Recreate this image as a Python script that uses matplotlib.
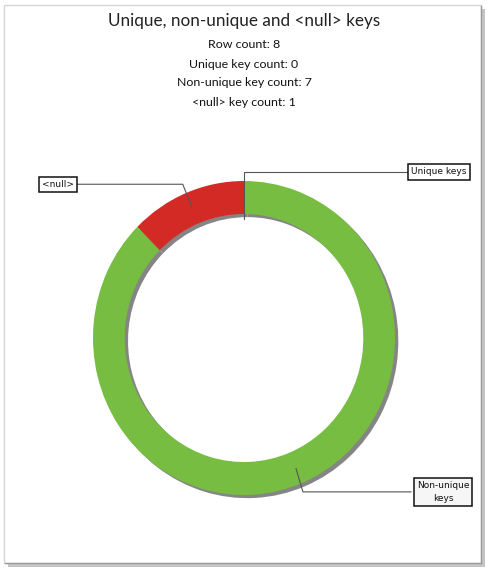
import numpy as np
import matplotlib.pyplot as plt
from matplotlib.patches import Rectangle

# key statistics
row_count = 8
labels = ["Unique keys", "<null>", "Non-unique keys"]
counts = [0, 1, 7]
colors = ["#76bd42", "#d42a25", "#76bd42"]
stat_lines = ["Row count: 8", "Unique key count: 0",
              "Non-unique key count: 7", "<null> key count: 1"]

W, H = 491, 570
fig = plt.figure(figsize=(W / 100, H / 100), dpi=100)

# background axes: panel frame with shadow
bg = fig.add_axes([0, 0, 1, 1], zorder=0)
bg.set_xlim(0, W)
bg.set_ylim(H, 0)
bg.axis("off")
bg.add_patch(Rectangle((8, 9), 477, 558, facecolor="#c4c4c4", edgecolor="none", zorder=0))
bg.add_patch(Rectangle((4, 5), 477, 558, facecolor="white", edgecolor="#d6d6d6", lw=1, zorder=1))
bg.plot([481, 481], [6, 563], color="#9a9a9a", lw=1, zorder=2)
bg.plot([5, 481], [563, 563], color="#9a9a9a", lw=1, zorder=2)

# overlay axes in pixel coordinates (y down) for texts and leaders
ov = fig.add_axes([0, 0, 1, 1], zorder=3)
ov.set_xlim(0, W)
ov.set_ylim(H, 0)
ov.axis("off")
ov.patch.set_alpha(0)

ov.text(244, 21, "Unique, non-unique and <null> keys", ha="center", va="center",
        fontsize=12.3, family="Lato", color="#222222")
for i, s in enumerate(stat_lines):
    ov.text(244, 45 + i * 19, s, ha="center", va="center", fontsize=8.9,
            family="Lato", color="#111111")

# donut
cx, cy, rx, ry = 244, 338, 151, 157
ax = fig.add_axes([(cx - rx) / W, (H - cy - ry) / H, 2 * rx / W, 2 * ry / H], zorder=2)
ax.patch.set_alpha(0)
ring = 0.21
shadow, _ = ax.pie(counts, colors=["#858585"] * 3, startangle=90, counterclock=True,
                   center=(0.022, -0.02), wedgeprops=dict(width=ring, linewidth=0))
wedges, _ = ax.pie(counts, colors=colors, startangle=90, counterclock=True,
                   wedgeprops=dict(width=ring, linewidth=0))
for w in shadow + wedges:
    w.set_clip_on(False)
ax.set_aspect("auto")
ax.set_xlim(-1, 1)
ax.set_ylim(-1, 1)
ax.axis("off")


def to_px(x, y):
    d = ax.transData.transform((x, y))
    return ov.transData.inverted().transform(d)


def polar_px(deg, r):
    a = np.deg2rad(deg)
    return to_px(r * np.cos(a), r * np.sin(a))


box = dict(boxstyle="square,pad=0.35", facecolor="white", edgecolor="#111111", lw=1.1)
lead = dict(color="#555555", lw=0.8)

# <null> leader
mid = (wedges[1].theta1 + wedges[1].theta2) / 2
p = polar_px(mid, 0.9)
e = polar_px(mid, 1.06)
ov.plot([75, e[0], p[0]], [e[1], e[1], p[1]], **lead)
ov.text(58, e[1], "<null>", ha="center", va="center", fontsize=6.5,
        family="DejaVu Sans", bbox=box, color="#111111")

# Unique keys leader (zero slice)
top = polar_px(wedges[0].theta1, 1.0)
inner = polar_px(wedges[0].theta1, 0.76)
ov.plot([409, top[0], top[0]], [172, 172, inner[1]], **lead)
ov.text(439, 172, "Unique keys", ha="center", va="center", fontsize=6.5,
        family="DejaVu Sans", bbox=box, color="#111111")

# Non-unique keys leader
mid = (wedges[2].theta1 + wedges[2].theta2) / 2
p = polar_px(mid, 0.9)
e = polar_px(mid - 0.8, 1.055)
ov.plot([411, e[0], p[0]], [e[1], e[1], p[1]], **lead)
box2 = dict(box, facecolor="#f6f6f6")
ov.text(443, e[1], "Non-unique\nkeys", ha="center", va="center", fontsize=6.5,
        family="DejaVu Sans", bbox=box2, color="#111111", linespacing=1.6)

fig.savefig("out.png", dpi=100)
